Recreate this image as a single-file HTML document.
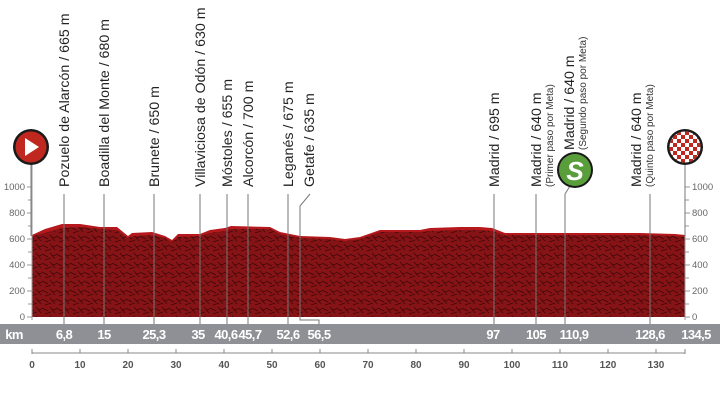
<!DOCTYPE html>
<html><head><meta charset="utf-8"><style>
body{margin:0;background:#fff;}
svg{display:block;font-family:"Liberation Sans",sans-serif;}
</style></head><body>
<svg width="720" height="405" viewBox="0 0 720 405" xmlns="http://www.w3.org/2000/svg">
<defs>
<pattern id="tex" width="14" height="9" patternUnits="userSpaceOnUse">
<rect width="14" height="9" fill="#861315"/>
<path d="M0 2 L6 5 M8 1 L13 7 M3 8 L9 6 M10 4 L14 3" stroke="#3e0809" stroke-width="0.8"/>
</pattern>
</defs>
<rect width="720" height="405" fill="#fff"/>
<polygon fill="#b5191d" points="32,317 32,235 45,229 62,224 80,224 100,227 117,227 128,236 132,233 152,232 165,236 172,240 178,234 200,234 210,230 225,228 231,226 270,227 280,232 290,234 300,236 330,237 345,239 360,237 380,230 420,230 430,228 460,227 480,227 492,228 505,233 540,233 600,233 640,233 675,234 685,235 685,317"/>
<polygon fill="url(#tex)" points="32,317 32,236 45,233 62,228 80,227 100,229 117,230 128,238 132,236 152,235 165,238 172,242 178,237 200,236 210,233 225,231 231,229 270,229 280,234 290,236 300,238 330,239 345,241 360,239 380,232 420,232 430,231 460,230 480,230 492,231 505,235 540,235 600,235 640,235 675,236 685,237 685,317"/>
<rect x="0" y="324" width="720" height="20" fill="#8e9096"/>
<g fill="#fff" font-size="13" text-anchor="middle" font-weight="bold" letter-spacing="-0.6">
<text x="14" y="339">km</text>
<text x="64" y="339">6,8</text><text x="104" y="339">15</text><text x="154" y="339">25,3</text>
<text x="198" y="339">35</text><text x="226" y="339">40,6</text><text x="250" y="339">45,7</text>
<text x="288" y="339">52,6</text><text x="319" y="339">56,5</text><text x="493" y="339">97</text>
<text x="536" y="339">105</text><text x="574" y="339">110,9</text><text x="650" y="339">128,6</text><text x="696" y="339">134,5</text>
</g>
<g stroke="#888" stroke-width="1">
<line x1="32" y1="353" x2="685" y2="353"/>
<line x1="32" y1="349" x2="32" y2="354"/><line x1="80" y1="349" x2="80" y2="353"/><line x1="128" y1="349" x2="128" y2="353"/>
<line x1="176" y1="349" x2="176" y2="353"/><line x1="224" y1="349" x2="224" y2="353"/><line x1="272" y1="349" x2="272" y2="353"/>
<line x1="320" y1="349" x2="320" y2="353"/><line x1="368" y1="349" x2="368" y2="353"/><line x1="416" y1="349" x2="416" y2="353"/>
<line x1="464" y1="349" x2="464" y2="353"/><line x1="512" y1="349" x2="512" y2="353"/><line x1="560" y1="349" x2="560" y2="353"/>
<line x1="608" y1="349" x2="608" y2="353"/><line x1="656" y1="349" x2="656" y2="353"/><line x1="685" y1="349" x2="685" y2="354"/>
</g>
<g fill="#555" font-size="10" text-anchor="middle" font-weight="bold">
<text x="32" y="368">0</text><text x="80" y="368">10</text><text x="128" y="368">20</text><text x="176" y="368">30</text>
<text x="224" y="368">40</text><text x="272" y="368">50</text><text x="320" y="368">60</text><text x="368" y="368">70</text>
<text x="416" y="368">80</text><text x="464" y="368">90</text><text x="512" y="368">100</text><text x="560" y="368">110</text>
<text x="608" y="368">120</text><text x="656" y="368">130</text>
</g>
<g stroke="#999" stroke-width="1">
<line x1="32" y1="160" x2="32" y2="320"/><line x1="685" y1="160" x2="685" y2="320"/>
<line x1="27" y1="317" x2="32" y2="317"/><line x1="27" y1="291" x2="32" y2="291"/><line x1="27" y1="265" x2="32" y2="265"/><line x1="27" y1="239" x2="32" y2="239"/><line x1="27" y1="213" x2="32" y2="213"/><line x1="27" y1="187" x2="32" y2="187"/>
<line x1="28" y1="304" x2="32" y2="304"/><line x1="28" y1="278" x2="32" y2="278"/><line x1="28" y1="252" x2="32" y2="252"/><line x1="28" y1="226" x2="32" y2="226"/><line x1="28" y1="200" x2="32" y2="200"/>
<line x1="685" y1="317" x2="690" y2="317"/><line x1="685" y1="291" x2="690" y2="291"/><line x1="685" y1="265" x2="690" y2="265"/><line x1="685" y1="239" x2="690" y2="239"/><line x1="685" y1="213" x2="690" y2="213"/><line x1="685" y1="187" x2="690" y2="187"/>
<line x1="685" y1="304" x2="689" y2="304"/><line x1="685" y1="278" x2="689" y2="278"/><line x1="685" y1="252" x2="689" y2="252"/><line x1="685" y1="226" x2="689" y2="226"/><line x1="685" y1="200" x2="689" y2="200"/>
</g>
<g fill="#666" font-size="9.5">
<g text-anchor="end"><text x="25" y="320">0</text><text x="25" y="294">200</text><text x="25" y="268">400</text><text x="25" y="242">600</text><text x="25" y="216">800</text><text x="25" y="190">1000</text></g>
<text x="692" y="320">0</text><text x="692" y="294">200</text><text x="692" y="268">400</text><text x="692" y="242">600</text><text x="692" y="216">800</text><text x="692" y="190">1000</text>
</g>
<g stroke="#777" stroke-width="1" fill="none">
<line x1="64" y1="194" x2="64" y2="324"/><line x1="104" y1="194" x2="104" y2="324"/><line x1="154" y1="194" x2="154" y2="324"/>
<line x1="200" y1="194" x2="200" y2="324"/><line x1="227" y1="194" x2="227" y2="324"/><line x1="248" y1="194" x2="248" y2="324"/>
<line x1="288" y1="194" x2="288" y2="324"/><polyline points="310,194 300,206 300,320 319,320 319,324"/>
<line x1="494" y1="194" x2="494" y2="324"/><line x1="536" y1="194" x2="536" y2="324"/><polyline points="570,186 565,194 565,324"/>
<line x1="650" y1="194" x2="650" y2="324"/>
<line x1="31" y1="160" x2="31" y2="236"/><line x1="685" y1="160" x2="685" y2="236"/>
</g>
<g fill="#222" font-size="14.2">
<text transform="translate(69,187) rotate(-90)">Pozuelo de Alarcón / 665 m</text>
<text transform="translate(109,187) rotate(-90)">Boadilla del Monte / 680 m</text>
<text transform="translate(159,187) rotate(-90)">Brunete / 650 m</text>
<text transform="translate(205,187) rotate(-90)">Villaviciosa de Odón / 630 m</text>
<text transform="translate(232,187) rotate(-90)">Móstoles / 655 m</text>
<text transform="translate(253,187) rotate(-90)">Alcorcón / 700 m</text>
<text transform="translate(293,187) rotate(-90)">Leganés / 675 m</text>
<text transform="translate(314,187) rotate(-90)">Getafe / 635 m</text>
<text transform="translate(499,187) rotate(-90)">Madrid / 695 m</text>
<text transform="translate(541,187) rotate(-90)">Madrid / 640 m</text>
<text transform="translate(574,150) rotate(-90)">Madrid / 640 m</text>
<text transform="translate(641,187) rotate(-90)">Madrid / 640 m</text>
</g>
<g fill="#333" font-size="10">
<text transform="translate(553,187) rotate(-90)">(Primer paso por Meta)</text>
<text transform="translate(586,150) rotate(-90)">(Segundo paso por Meta)</text>
<text transform="translate(653,187) rotate(-90)">(Quinto paso por Meta)</text>
</g>
<circle cx="31" cy="147" r="18" fill="#1a1a1a"/>
<circle cx="31" cy="147" r="15.5" fill="#c0271f"/>
<polygon points="25,138 25,156 39,147" fill="#fff"/>
<circle cx="685" cy="147" r="18" fill="#1a1a1a"/>
<clipPath id="fc"><circle cx="685" cy="147" r="15.5"/></clipPath>
<g clip-path="url(#fc)">
<rect x="668" y="130" width="34" height="34" fill="#fff"/>
<g fill="#c0271f">
<rect x="669" y="131" width="4" height="4"/><rect x="677" y="131" width="4" height="4"/><rect x="685" y="131" width="4" height="4"/><rect x="693" y="131" width="4" height="4"/>
<rect x="673" y="135" width="4" height="4"/><rect x="681" y="135" width="4" height="4"/><rect x="689" y="135" width="4" height="4"/><rect x="697" y="135" width="4" height="4"/>
<rect x="669" y="139" width="4" height="4"/><rect x="677" y="139" width="4" height="4"/><rect x="685" y="139" width="4" height="4"/><rect x="693" y="139" width="4" height="4"/>
<rect x="673" y="143" width="4" height="4"/><rect x="681" y="143" width="4" height="4"/><rect x="689" y="143" width="4" height="4"/><rect x="697" y="143" width="4" height="4"/>
<rect x="669" y="147" width="4" height="4"/><rect x="677" y="147" width="4" height="4"/><rect x="685" y="147" width="4" height="4"/><rect x="693" y="147" width="4" height="4"/>
<rect x="673" y="151" width="4" height="4"/><rect x="681" y="151" width="4" height="4"/><rect x="689" y="151" width="4" height="4"/><rect x="697" y="151" width="4" height="4"/>
<rect x="669" y="155" width="4" height="4"/><rect x="677" y="155" width="4" height="4"/><rect x="685" y="155" width="4" height="4"/><rect x="693" y="155" width="4" height="4"/>
<rect x="673" y="159" width="4" height="4"/><rect x="681" y="159" width="4" height="4"/><rect x="689" y="159" width="4" height="4"/>
</g></g>
<circle cx="575" cy="170" r="18" fill="#1a1a1a"/>
<circle cx="575" cy="170" r="16" fill="#5a9e3c"/>
<text x="575" y="180" fill="#fff" font-size="26" font-weight="bold" font-style="italic" text-anchor="middle">S</text>
</svg>
</body></html>
